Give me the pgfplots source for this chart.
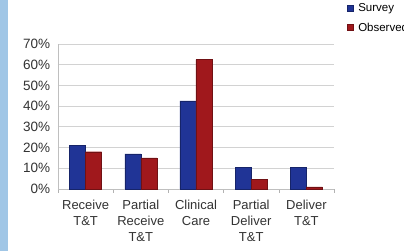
\documentclass[border=0pt]{standalone}
\usepackage{pgfplots}
\pgfplotsset{compat=1.18}
\usepackage{fontspec}
\setmainfont{Liberation Sans}
\definecolor{survey}{RGB}{32,52,150}
\definecolor{observed}{RGB}{160,24,28}
\definecolor{strip}{RGB}{160,198,230}
\begin{document}
\begin{tikzpicture}[x=1pt,y=1pt]
\useasboundingbox (0,0) rectangle (404,251);
\fill[white] (0,0) rectangle (404,251);
\fill[strip] (0,0) rectangle (8,251);
\begin{axis}[
  at={(58pt,62pt)}, anchor=south west,
  scale only axis, width=276pt, height=145pt,
  ybar=0pt, bar width=16pt,
  xmin=-0.5, xmax=4.5, ymin=0, ymax=70,
  xtick={0,1,2,3,4},
  xticklabels={Receive\\T\&T, Partial\\Receive\\T\&T, Clinical\\Care, Partial\\Deliver\\T\&T, Deliver\\T\&T},
  xticklabel style={align=center, font=\fontsize{13}{16}\selectfont, text=black!80, yshift=-3pt},
  major x tick style={draw=none},
  minor xtick={-0.5,0.5,1.5,2.5,3.5,4.5},
  minor tick length=4pt,
  minor x tick style={gray!60},
  xtick pos=bottom,
  ytick={0,10,...,70},
  yticklabel={\pgfmathprintnumber{\tick}\%},
  yticklabel style={font=\fontsize{13.5}{15}\selectfont, text=black!80},
  /pgf/number format/assume math mode=true,
  ymajorgrids, grid style={gray!35, line width=0.8pt},
  major y tick style={draw=none},
  axis x line*=bottom, axis y line*=left,
  axis line style={gray!50},
  tick align=outside,
  legend style={at={(1.035,1.31)}, anchor=north west, draw=none, fill=none,
    font=\fontsize{11.5}{14}\selectfont, row sep=6pt,
    legend cell align=left},
  legend image code/.code={\fill[#1] (0pt,-3pt) rectangle (6pt,3pt); \path (9pt,0pt);},
  clip=false,
]
\addplot[fill=survey, draw=survey!70!black] coordinates {(0,21) (1,17) (2,42.5) (3,10.5) (4,10.5)};
\addplot[fill=observed, draw=observed!70!black] coordinates {(0,18) (1,15) (2,62.5) (3,4.5) (4,1)};
\legend{Survey, Observed}
\end{axis}
\end{tikzpicture}
\end{document}
